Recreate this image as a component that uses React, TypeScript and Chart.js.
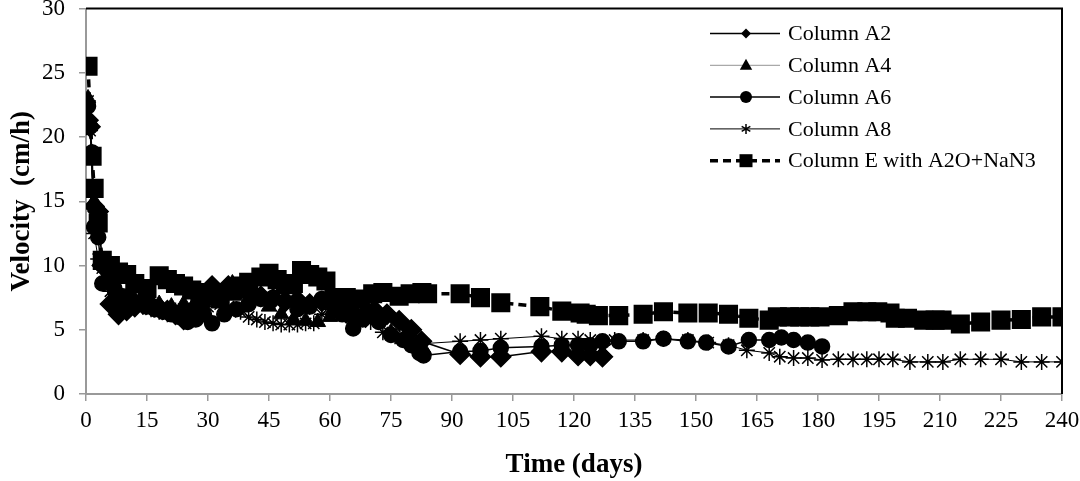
import React, { useEffect, useRef } from "react";
import { Chart, registerables } from "chart.js";

Chart.register(...registerables);

const xTicks = [0, 15, 30, 45, 60, 75, 90, 105, 120, 135, 150, 165, 180, 195, 210, 225, 240];
const yTicks = [0, 5, 10, 15, 20, 25, 30];

const legendLabels = ["Column A2", "Column A4", "Column A6", "Column A8", "Column E with A2O+NaN3"];

const a2Days = [0.5, 1, 2, 3, 4, 6, 8, 10, 12, 14, 16, 18, 20, 22, 24, 26, 28, 31, 33, 35, 38, 40, 43, 46, 49, 52, 55, 58, 61, 64, 66, 69, 71, 74, 77, 80, 82.5, 92, 97, 102, 112, 117, 121, 124, 127];
const a2Vel = [21.3, 20.8, 14.6, 14.2, 10, 7, 6.2, 6.5, 6.8, 7, 6.9, 6.7, 6.5, 6.2, 5.8, 6.2, 7, 8.4, 7.8, 8.4, 8.2, 8, 7.6, 7.4, 7.2, 7.3, 7, 7.2, 6.8, 6.3, 5.9, 6.3, 6.5, 6.2, 5.7, 5, 4.1, 3.1, 2.9, 2.9, 3.3, 3.3, 3.0, 3.0, 2.9];

const a4Days = [0.5, 1, 2, 3, 5, 7, 9, 11, 13, 15, 18, 21, 24, 27, 30, 33, 36, 39, 42, 45, 48, 51, 54, 57, 60, 63, 66, 69, 72, 75, 78, 81, 83];
const a4Vel = [23, 21, 15, 13, 9, 7.6, 7.2, 7, 6.8, 7.2, 7, 6.8, 7, 7.2, 7.4, 7.2, 8.6, 7.8, 7.4, 6.8, 6.2, 5.8, 5.7, 5.6, 6, 6.4, 6.6, 6.8, 5.8, 4.8, 4.3, 3.8, 3.5];

const a6Days = [0.5, 1, 1.5, 2, 3, 4, 5, 7, 9, 11, 13, 15, 17, 19, 21, 23, 25, 27, 29, 31, 34, 37, 40, 43, 46, 49, 52, 55, 58, 61, 63, 65.7, 68, 70, 72, 75, 78, 80, 82, 83, 92, 97, 102, 112, 117, 121, 124, 127, 131, 137, 142, 148, 152.5, 158, 163, 168, 171, 174, 177.5, 181];
const a6Vel = [22.4, 20.8, 18.8, 13, 12.2, 8.6, 10.2, 8.2, 7.6, 7.4, 7, 6.8, 6.6, 6.4, 6.2, 6, 5.6, 5.8, 6.2, 5.5, 6.2, 6.6, 7, 7.4, 7.5, 7.2, 6.6, 6.8, 7.4, 7, 6.2, 5.1, 5.8, 6.4, 5.6, 4.6, 4.2, 3.8, 3.2, 3.0, 3.3, 3.35, 3.6, 3.7, 3.8, 3.8, 3.8, 4.1, 4.1, 4.1, 4.3, 4.1, 4.0, 3.7, 4.2, 4.2, 4.4, 4.2, 4.0, 3.7];

const a8Days = [0.5, 1, 2, 3, 4, 6, 8, 10, 12, 14, 16, 18, 20, 22, 24, 26, 28, 30, 33, 35, 38, 40, 42, 44, 46, 48, 50, 52, 54, 56, 58, 60, 63, 66, 70, 73, 76, 79, 82, 92, 97, 102, 112, 117, 121, 124, 130, 137, 142, 148, 153, 158, 162.5, 168, 170.6, 174, 177.5, 181, 185, 188.6, 192, 195, 198.4, 202.6, 207, 210.7, 215, 220, 225, 230, 235, 240];
const a8Vel = [22.8, 20.5, 12.5, 10.5, 9.8, 8, 7.4, 7.2, 7, 6.8, 6.6, 6.4, 6.2, 6.5, 6.6, 6.4, 6.7, 6.8, 7, 6.8, 6.4, 6, 5.8, 5.6, 5.5, 5.4, 5.4, 5.4, 5.5, 5.5, 6.2, 6.6, 6.8, 6.5, 5.6, 4.8, 4.5, 4.2, 3.9, 4.1, 4.2, 4.3, 4.5, 4.3, 4.3, 4.2, 4.2, 4.2, 4.3, 4.2, 4.0, 3.8, 3.4, 3.2, 2.9, 2.8, 2.8, 2.65, 2.7, 2.7, 2.7, 2.7, 2.7, 2.5, 2.5, 2.5, 2.7, 2.7, 2.7, 2.5, 2.5, 2.5];

const eDays = [0.5, 1.5, 2, 3, 4, 6, 8, 10, 12, 15, 18, 20, 22, 24, 26, 28, 30, 33, 36, 38, 40, 43, 45, 47, 49, 51, 53, 55, 57, 59, 61, 64, 67, 70.5, 73, 77, 79.7, 82.6, 84, 92, 97, 102, 111.6, 117, 121.5, 123, 126, 131, 137, 142, 148, 153, 158, 163, 168, 170, 173, 175.5, 178, 180.5, 185, 188.6, 192, 194.7, 197.7, 199, 202, 206, 208.8, 210.5, 215, 220, 225, 230, 235, 240];
const eVel = [25.5, 18.5, 16, 13.3, 10.4, 10, 9.5, 9.3, 8.6, 8.2, 9.2, 8.9, 8.6, 8.4, 8.1, 7.9, 7.6, 7.4, 8, 8.4, 8.7, 9.1, 9.4, 8.9, 8.5, 8.6, 9.6, 9.3, 9.1, 8.8, 7.5, 7.5, 7.4, 7.8, 7.9, 7.6, 7.8, 7.9, 7.8, 7.8, 7.5, 7.1, 6.8, 6.45, 6.3, 6.2, 6.1, 6.1, 6.2, 6.4, 6.3, 6.3, 6.2, 5.9, 5.75, 6, 6, 6, 6, 6, 6.1, 6.4, 6.4, 6.4, 6.3, 5.9, 5.9, 5.75, 5.75, 5.75, 5.45, 5.6, 5.75, 5.8, 6, 6];

const pts = (d: number[], v: number[]) => d.map((x, i) => ({ x, y: v[i] }));

const SERIF = "'Liberation Serif', 'Times New Roman', serif";

function drawMarker(ctx: CanvasRenderingContext2D, style: string, x: number, y: number, r: number) {
  ctx.save();
  ctx.fillStyle = "#000";
  ctx.strokeStyle = "#000";
  ctx.lineWidth = 1.5;
  ctx.setLineDash([]);
  ctx.beginPath();
  if (style === "rectRot") {
    ctx.moveTo(x, y - r); ctx.lineTo(x + r, y); ctx.lineTo(x, y + r); ctx.lineTo(x - r, y); ctx.closePath(); ctx.fill();
  } else if (style === "triangle") {
    ctx.moveTo(x, y - r); ctx.lineTo(x + r * 0.95, y + r * 0.7); ctx.lineTo(x - r * 0.95, y + r * 0.7); ctx.closePath(); ctx.fill();
  } else if (style === "circle") {
    ctx.arc(x, y, r, 0, Math.PI * 2); ctx.fill();
  } else if (style === "star") {
    for (let k = 0; k < 3; k++) {
      const a = Math.PI / 2 + (k * Math.PI) / 3;
      ctx.moveTo(x + Math.cos(a) * r, y + Math.sin(a) * r);
      ctx.lineTo(x - Math.cos(a) * r, y - Math.sin(a) * r);
    }
    ctx.stroke();
  } else {
    ctx.rect(x - r, y - r, 2 * r, 2 * r); ctx.fill();
  }
  ctx.restore();
}

const framePlugin = {
  id: "frameLegend",
  afterDraw(chart: any) {
    const { ctx, chartArea } = chart;
    ctx.save();
    ctx.strokeStyle = "#000";
    ctx.lineWidth = 2;
    ctx.beginPath();
    ctx.moveTo(chartArea.left, chartArea.top);
    ctx.lineTo(chartArea.right, chartArea.top);
    ctx.lineTo(chartArea.right, chartArea.bottom);
    ctx.stroke();

    const styles = ["rectRot", "triangle", "circle", "star", "rect"];
    const widths = [1.5, 0.8, 1.5, 1, 3.5];
    const colors = ["#000", "#777", "#000", "#000", "#000"];
    const sizes = [5, 6.5, 6, 5, 6.5];
    const x0 = chartArea.left + 624;
    const x1 = chartArea.left + 694;
    const mx = chartArea.left + 660;
    ctx.font = `22px ${SERIF}`;
    ctx.textBaseline = "middle";
    ctx.textAlign = "left";
    for (let i = 0; i < legendLabels.length; i++) {
      const y = chartArea.top + 25 + i * 31.8;
      ctx.beginPath();
      ctx.strokeStyle = colors[i];
      ctx.lineWidth = widths[i];
      if (i === 4) ctx.setLineDash([8, 5]); else ctx.setLineDash([]);
      ctx.moveTo(x0, y);
      ctx.lineTo(x1, y);
      ctx.stroke();
      ctx.setLineDash([]);
      drawMarker(ctx, styles[i], mx, y, sizes[i]);
      ctx.fillStyle = "#000";
      ctx.fillText(legendLabels[i], chartArea.left + 702, y + 1);
    }
    ctx.restore();
  },
};

const SHIFT = 6;

export default function App() {
  const ref = useRef<HTMLCanvasElement | null>(null);
  useEffect(() => {
    document.body.style.margin = "0";
    if (!ref.current) return;
    const common = { pointBackgroundColor: "#000", pointBorderColor: "#000", fill: false, tension: 0 };
    const chart = new Chart(ref.current, {
      type: "line",
      data: {
        datasets: [
          { ...common, label: legendLabels[4], data: pts(eDays, eVel), borderColor: "#000", borderWidth: 3.5, borderDash: [8, 5], pointStyle: "rect", pointRadius: 11, order: 0 },
          { ...common, label: legendLabels[0], data: pts(a2Days, a2Vel), borderColor: "#000", borderWidth: 1.5, pointStyle: "rectRot", pointRadius: 10, order: 1 },
          { ...common, label: legendLabels[2], data: pts(a6Days, a6Vel), borderColor: "#000", borderWidth: 1.5, pointStyle: "circle", pointRadius: 7.5, order: 2 },
          { ...common, label: legendLabels[1], data: pts(a4Days, a4Vel), borderColor: "#666", borderWidth: 1, pointStyle: "triangle", pointRadius: 9, order: 3 },
          { ...common, label: legendLabels[3], data: pts(a8Days, a8Vel), borderColor: "#000", borderWidth: 1, pointStyle: "star", pointRadius: 8, pointBorderWidth: 1.5, order: 4 },
        ] as any,
      },
      options: {
        animation: false,
        responsive: false,
        maintainAspectRatio: false,
        events: [],
        layout: { padding: { top: 0, right: 18, left: 0, bottom: 0 } },
        plugins: { legend: { display: false }, tooltip: { enabled: false } },
        scales: {
          x: {
            type: "linear",
            min: 0,
            max: 240,
            afterBuildTicks: (s: any) => { s.ticks = xTicks.map((v) => ({ value: v })); },
            afterFit: (s: any) => { s.height = 87; s.paddingLeft = 0; s.paddingRight = 0; },
            ticks: { color: "#000", font: { family: SERIF, size: 23 }, padding: 6, maxRotation: 0, autoSkip: false },
            grid: { drawOnChartArea: false, drawTicks: true, tickLength: 7, color: "#999", lineWidth: 1.5 },
            border: { color: "#999", width: 2 },
            title: { display: true, text: "Time (days)", color: "#000", font: { family: SERIF, size: 27, weight: "bold" }, padding: { top: 2, bottom: 0 } },
          },
          y: {
            type: "linear",
            min: 0,
            max: 30,
            afterBuildTicks: (s: any) => { s.ticks = yTicks.map((v) => ({ value: v })); },
            afterFit: (s: any) => { s.width = 86; s.paddingTop = 0; s.paddingBottom = 0; },
            ticks: { color: "#000", font: { family: SERIF, size: 23 }, padding: 14 },
            grid: { drawOnChartArea: false, drawTicks: true, tickLength: 7, color: "#999", lineWidth: 1.5 },
            border: { color: "#999", width: 2 },
            title: { display: true, text: "Velocity  (cm/h)", color: "#000", font: { family: SERIF, size: 27, weight: "bold" }, padding: { top: 6, bottom: 0 } },
          },
        },
      } as any,
      plugins: [framePlugin],
    });
    return () => chart.destroy();
  }, []);
  return (
    <div style={{ width: 1080, height: 481, background: "#fff", overflow: "hidden", position: "relative" }}>
      <canvas
        ref={ref}
        width={1080}
        height={481 + SHIFT}
        style={{ display: "block", position: "absolute", left: 0, top: -SHIFT, width: 1080, height: 481 + SHIFT }}
      />
    </div>
  );
}
